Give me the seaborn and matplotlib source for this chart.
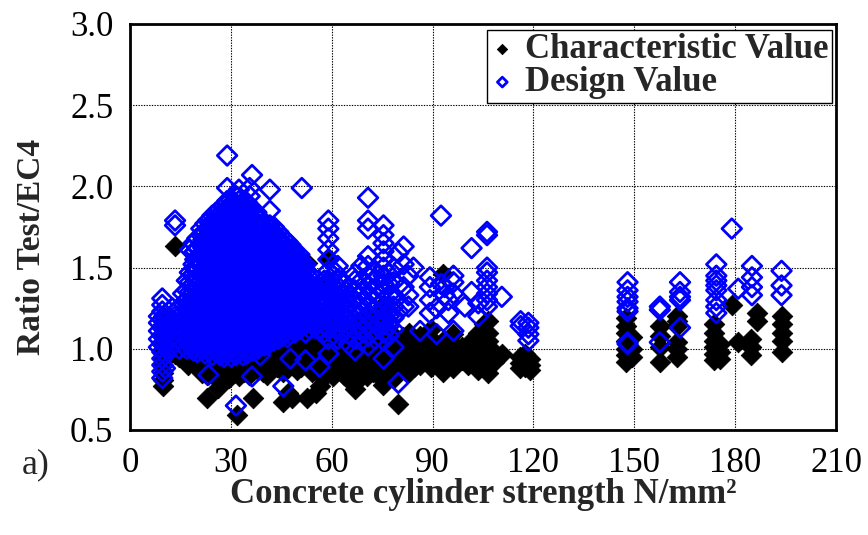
import matplotlib
matplotlib.use("Agg")
import matplotlib.pyplot as plt
import pandas as pd
import seaborn as sns

# Concrete cylinder strength (N/mm^2) for each group of tests
char_fc = [9.8, 11.0, 12.4, 13.4, 14.6, 15.9, 17.3, 18.7, 20.1, 21.4,
           23.0, 24.6, 26.2, 27.8, 29.3, 30.8, 31.7, 32.5, 34.0, 35.4,
           36.7, 38.1, 39.5, 40.7, 42.2, 43.6, 45.6, 47.0, 48.1, 49.6,
           51.0, 52.6, 54.0, 55.4, 56.5, 58.0, 59.3, 60.5, 62.0, 63.6,
           65.1, 66.9, 68.6, 70.4, 72.2, 73.8, 75.3, 76.9, 78.4, 79.8,
           81.3, 82.9, 84.5, 86.3, 88.0, 89.4, 91.0, 93.2, 94.8, 96.2,
           98.7, 100.6, 102.0, 103.6, 105.2, 106.6, 108.2, 110.6, 116.0, 117.4,
           119.0, 147.4, 149.4, 157.6, 162.8, 173.8, 175.6, 179.0, 180.9, 184.6,
           186.4, 193.8]

# Ratio test / EC4 using characteristic values
char_ratio = [
    [0.77, 0.81, 0.85, 0.90, 0.95, 1.00, 1.05, 1.10, 1.15, 1.20],
    [0.96, 1.01, 1.06, 1.12],
    [0.98, 1.04, 1.10],
    [0.97, 1.03, 1.09, 1.63],
    [0.95, 1.00, 1.06, 1.12],
    [0.94, 0.99, 1.05, 1.11, 1.17],
    [0.90, 0.96, 1.02, 1.08, 1.14, 1.20],
    [0.93, 0.98, 1.04, 1.10, 1.16, 1.22],
    [0.88, 0.94, 1.00, 1.06, 1.12, 1.18, 1.25],
    [0.85, 0.91, 0.97, 1.03, 1.09, 1.16, 1.23, 1.30],
    [0.70, 0.84, 0.90, 0.96, 1.02, 1.08, 1.15, 1.22, 1.29, 1.36],
    [0.86, 0.92, 0.98, 1.04, 1.10, 1.17, 1.24, 1.31, 1.38],
    [0.76, 0.81, 0.87, 0.93, 0.99, 1.05, 1.12, 1.19, 1.26, 1.33, 1.41],
    [0.84, 0.89, 0.95, 1.01, 1.07, 1.14, 1.21, 1.28, 1.36, 1.44, 1.79],
    [0.82, 0.88, 0.94, 1.00, 1.06, 1.13, 1.20, 1.27, 1.35, 1.43, 1.51],
    [0.85, 0.91, 0.97, 1.03, 1.09, 1.16, 1.23, 1.31, 1.39, 1.47],
    [0.59],
    [0.83, 0.89, 0.95, 1.01, 1.07, 1.14, 1.21, 1.28, 1.36, 1.44, 1.52],
    [0.86, 0.92, 0.98, 1.04, 1.10, 1.17, 1.24, 1.32, 1.40, 1.48],
    [0.84, 0.90, 0.96, 1.02, 1.08, 1.15, 1.22, 1.30, 1.38],
    [0.70, 0.88, 0.94, 1.00, 1.06, 1.13, 1.20, 1.27, 1.35, 1.43],
    [0.87, 0.93, 0.99, 1.05, 1.12, 1.19, 1.26, 1.34],
    [0.86, 0.92, 0.98, 1.04, 1.11, 1.18, 1.25, 1.33, 1.41],
    [0.84, 0.90, 0.96, 1.02, 1.09, 1.16, 1.24, 1.31],
    [0.88, 0.94, 1.00, 1.07, 1.14, 1.21, 1.28, 1.36],
    [0.89, 0.95, 1.01, 1.08, 1.15, 1.22, 1.30],
    [0.67, 0.86, 0.92, 0.98, 1.05, 1.12, 1.19, 1.27, 1.35],
    [0.73, 0.88, 0.94, 1.00, 1.07, 1.14, 1.21, 1.29],
    [0.70, 0.90, 0.96, 1.02, 1.09, 1.16, 1.24],
    [0.87, 0.93, 0.99, 1.05, 1.12, 1.19, 1.27, 1.35, 1.44],
    [0.89, 0.95, 1.01, 1.08, 1.15, 1.22, 1.30, 1.38, 1.46],
    [0.70, 0.90, 0.96, 1.02, 1.09, 1.16, 1.24, 1.32, 1.53],
    [0.86, 0.92, 0.98, 1.04, 1.11, 1.18],
    [0.73, 0.88, 0.94, 1.00, 1.06, 1.13],
    [0.77, 0.84, 0.90, 0.96, 1.02, 1.08],
    [0.83, 0.89, 0.95, 1.01, 1.07, 1.14],
    [0.86, 0.92, 0.98, 1.04, 1.10, 1.17, 1.25, 1.33, 1.42, 1.55],
    [0.83, 0.89, 0.95, 1.01, 1.07],
    [0.87, 0.93, 0.99, 1.05, 1.11],
    [0.84, 0.90, 0.96, 1.02, 1.08, 1.14],
    [0.81, 0.87, 0.93, 0.99, 1.05],
    [0.75, 0.79, 0.83, 0.88, 0.93, 0.98, 1.03, 1.09, 1.15],
    [0.85, 0.91, 0.97, 1.03, 1.09],
    [0.83, 0.89, 0.95, 1.01, 1.07, 1.13, 1.20],
    [0.86, 0.92, 0.98, 1.04, 1.11],
    [0.84, 0.90, 0.96, 1.02, 1.08],
    [0.78, 0.83, 0.88, 0.94, 1.00, 1.06, 1.12, 1.19, 1.27],
    [0.87, 0.93, 0.99, 1.05, 1.11],
    [0.82, 0.88, 0.94, 1.00, 1.06],
    [0.66, 0.85, 0.91, 0.97, 1.03],
    [0.88, 0.94, 1.00, 1.07],
    [0.86, 0.92, 0.98, 1.04, 1.10],
    [0.89, 0.95, 1.01],
    [0.90, 0.96, 1.02, 1.08],
    [0.93, 0.99, 1.05],
    [0.89, 0.94, 1.00, 1.06, 1.12],
    [0.91, 0.97, 1.03],
    [0.86, 0.93, 0.99, 1.05, 1.46],
    [0.90, 0.96, 1.02],
    [0.88, 0.97, 1.03, 1.09],
    [0.93, 0.97, 1.01],
    [0.90, 0.96],
    [0.95, 1.00, 1.06],
    [0.87, 0.93, 0.99, 1.04, 1.10],
    [0.90, 0.96, 1.02, 1.08, 1.15],
    [0.85, 0.89, 0.94, 1.00, 1.05, 1.10, 1.17],
    [0.92, 0.98],
    [0.97],
    [0.88, 0.91, 0.95],
    [0.89, 0.93, 0.97],
    [0.87, 0.90, 0.94],
    [0.92, 0.96, 1.00, 1.05, 1.10, 1.14, 1.19],
    [0.95, 1.00, 1.07],
    [0.92, 1.01, 1.08, 1.14],
    [0.95, 1.00, 1.04, 1.14, 1.17, 1.20],
    [0.93, 0.97, 1.01, 1.05, 1.10, 1.15],
    [0.94, 0.98, 1.03],
    [1.27],
    [1.04],
    [0.96, 1.01, 1.06],
    [1.17, 1.22],
    [0.98, 1.05, 1.10, 1.15, 1.20],
]

design_fc = [8.6, 9.6, 10.4, 11.5, 12.6, 13.4, 14.6, 15.8, 16.9, 17.8,
             18.9, 20.0, 21.2, 22.4, 23.3, 24.5, 25.6, 26.8, 28.0, 28.9,
             30.1, 31.5, 32.4, 33.6, 34.8, 35.6, 36.3, 37.6, 38.7, 39.9,
             41.6, 42.8, 44.1, 45.6, 46.8, 47.7, 49.0, 50.4, 51.1, 52.2,
             53.5, 55.0, 56.4, 57.8, 59.0, 60.4, 61.8, 63.4, 65.0, 66.9,
             68.8, 70.8, 72.8, 75.4, 77.0, 78.4, 79.8, 81.4, 82.8, 84.3,
             86.3, 89.2, 91.2, 92.5, 93.6, 94.7, 96.2, 99.6, 101.6, 103.6,
             106.2, 110.6, 116.2, 118.5, 148.0, 157.6, 163.6, 174.4, 179.0, 180.9,
             185.0, 193.8,
             # further specimens in the dense normal-strength range
             19.4, 21.8, 23.9, 26.2, 27.4, 29.5, 30.8, 32.9, 34.2, 36.9,
             38.1, 39.3, 40.7, 42.2, 43.5, 45.0, 46.2, 48.3, 49.7, 51.4,
             54.2, 58.4, 61.1, 64.2]

# Ratio test / EC4 using design values
design_ratio = [
    [1.01, 1.06, 1.11, 1.16, 1.20],
    [0.82, 0.86, 0.90, 0.94, 0.98, 1.03, 1.08, 1.13, 1.18, 1.23, 1.27, 1.31],
    [0.88, 0.96, 1.02, 1.07, 1.12, 1.17, 1.21],
    [1.00, 1.05, 1.10, 1.15, 1.19],
    [1.02, 1.07, 1.12, 1.17, 1.25],
    [1.04, 1.09, 1.14, 1.20, 1.76, 1.79],
    [1.00, 1.05, 1.10, 1.15, 1.20, 1.25],
    [1.02, 1.07, 1.12, 1.17, 1.22, 1.28, 1.34],
    [1.00, 1.05, 1.10, 1.15, 1.20, 1.25, 1.30, 1.36, 1.42],
    [1.03, 1.08, 1.13, 1.18, 1.24, 1.29, 1.35, 1.41, 1.47, 1.61],
    [0.99, 1.04, 1.09, 1.14, 1.19, 1.24, 1.30, 1.35, 1.40, 1.46, 1.52, 1.59, 1.65],
    [0.98, 1.03, 1.08, 1.13, 1.18, 1.23, 1.28, 1.33, 1.39, 1.44, 1.50, 1.56, 1.62, 1.68],
    [1.00, 1.05, 1.10, 1.15, 1.20, 1.26, 1.31, 1.36, 1.42, 1.47, 1.53, 1.58, 1.64, 1.70, 1.74],
    [0.97, 1.02, 1.07, 1.12, 1.17, 1.22, 1.27, 1.33, 1.38, 1.44, 1.49, 1.55, 1.60, 1.66, 1.72, 1.77],
    [0.84, 0.99, 1.04, 1.09, 1.15, 1.20, 1.25, 1.30, 1.35, 1.41, 1.46, 1.52, 1.57, 1.63, 1.68, 1.74, 1.79],
    [0.96, 1.01, 1.06, 1.11, 1.16, 1.21, 1.27, 1.32, 1.37, 1.43, 1.48, 1.53, 1.59, 1.64, 1.70, 1.76, 1.82],
    [0.98, 1.03, 1.08, 1.13, 1.18, 1.24, 1.29, 1.34, 1.40, 1.45, 1.50, 1.56, 1.61, 1.67, 1.72, 1.78, 1.84],
    [0.96, 1.00, 1.05, 1.10, 1.15, 1.20, 1.25, 1.31, 1.36, 1.41, 1.47, 1.52, 1.58, 1.63, 1.69, 1.74, 1.80, 1.86],
    [0.95, 1.02, 1.07, 1.12, 1.17, 1.22, 1.28, 1.33, 1.38, 1.44, 1.49, 1.55, 1.60, 1.66, 1.71, 1.77, 1.83, 1.88],
    [0.97, 1.04, 1.09, 1.14, 1.19, 1.25, 1.30, 1.35, 1.41, 1.46, 1.52, 1.57, 1.63, 1.68, 1.74, 1.80, 1.86, 1.91, 1.99, 2.19],
    [0.95, 1.00, 1.05, 1.10, 1.16, 1.21, 1.26, 1.32, 1.37, 1.42, 1.48, 1.53, 1.59, 1.64, 1.70, 1.75, 1.81, 1.87, 1.92],
    [0.65, 0.96, 1.02, 1.07, 1.12, 1.18, 1.23, 1.28, 1.34, 1.39, 1.45, 1.50, 1.56, 1.61, 1.67, 1.72, 1.78, 1.84, 1.89, 1.94],
    [0.98, 1.04, 1.09, 1.14, 1.20, 1.25, 1.31, 1.36, 1.41, 1.47, 1.52, 1.58, 1.63, 1.69, 1.75, 1.81, 1.86, 1.91, 1.98],
    [0.96, 1.01, 1.06, 1.11, 1.17, 1.22, 1.27, 1.33, 1.38, 1.44, 1.49, 1.55, 1.60, 1.66, 1.72, 1.77, 1.83, 1.89],
    [0.97, 1.03, 1.08, 1.13, 1.19, 1.24, 1.29, 1.35, 1.40, 1.46, 1.51, 1.57, 1.62, 1.68, 1.74, 1.79, 1.85, 1.90],
    [1.00, 1.05, 1.10, 1.16, 1.21, 1.26, 1.32, 1.37, 1.43, 1.48, 1.54, 1.59, 1.65, 1.71, 1.76, 1.82, 1.88, 1.94, 1.99],
    [0.83, 0.99, 1.04, 1.09, 1.14, 1.20, 1.25, 1.30, 1.36, 1.41, 1.47, 1.52, 1.58, 1.64, 1.69, 1.75, 1.80, 1.86, 2.07],
    [1.01, 1.06, 1.12, 1.17, 1.22, 1.28, 1.33, 1.39, 1.44, 1.50, 1.55, 1.61, 1.66, 1.72, 1.78, 1.84],
    [0.96, 1.03, 1.08, 1.13, 1.19, 1.24, 1.30, 1.35, 1.41, 1.46, 1.52, 1.57, 1.63, 1.68, 1.74, 1.80],
    [1.02, 1.07, 1.12, 1.18, 1.23, 1.29, 1.34, 1.39, 1.45, 1.50, 1.56, 1.61, 1.67, 1.72, 1.78],
    [1.04, 1.09, 1.15, 1.20, 1.26, 1.31, 1.37, 1.42, 1.48, 1.53, 1.59, 1.64, 1.70, 1.76, 1.85, 1.98],
    [1.05, 1.11, 1.16, 1.22, 1.27, 1.33, 1.38, 1.44, 1.49, 1.55, 1.60, 1.66, 1.71, 1.75],
    [1.06, 1.12, 1.17, 1.23, 1.28, 1.34, 1.39, 1.45, 1.50, 1.56, 1.61, 1.67, 1.72],
    [0.77, 1.08, 1.13, 1.19, 1.24, 1.30, 1.35, 1.41, 1.46, 1.52, 1.57, 1.63, 1.68],
    [1.07, 1.12, 1.18, 1.23, 1.29, 1.34, 1.40, 1.45, 1.51, 1.56, 1.62, 1.66],
    [0.94, 1.09, 1.14, 1.20, 1.25, 1.31, 1.36, 1.42, 1.47, 1.53, 1.58, 1.64],
    [1.10, 1.16, 1.21, 1.27, 1.32, 1.38, 1.43, 1.49, 1.54, 1.60],
    [1.12, 1.17, 1.23, 1.28, 1.34, 1.39, 1.45, 1.50, 1.55, 1.58],
    [1.99],
    [0.93, 1.10, 1.15, 1.20, 1.26, 1.31, 1.37, 1.42, 1.47, 1.52],
    [1.12, 1.18, 1.23, 1.29, 1.34, 1.40, 1.46],
    [1.13, 1.18, 1.24, 1.29, 1.34, 1.38],
    [0.89, 1.11, 1.16, 1.22, 1.27, 1.32, 1.36],
    [1.10, 1.15, 1.21, 1.26, 1.31, 1.37, 1.42],
    [0.97, 1.06, 1.12, 1.18, 1.24, 1.30, 1.36, 1.42, 1.48, 1.55, 1.61, 1.68, 1.74, 1.79],
    [1.09, 1.15, 1.20, 1.26, 1.32, 1.38, 1.45],
    [1.06, 1.12, 1.18, 1.24, 1.30, 1.36, 1.43, 1.51],
    [1.10, 1.16, 1.22, 1.28, 1.34, 1.40],
    [1.03, 1.09, 1.15, 1.21, 1.27, 1.33, 1.38],
    [0.99, 1.06, 1.12, 1.18, 1.24, 1.30, 1.36, 1.42, 1.46],
    [1.05, 1.11, 1.17, 1.23, 1.29, 1.35, 1.42, 1.51],
    [1.02, 1.08, 1.14, 1.20, 1.26, 1.32, 1.39, 1.45, 1.51, 1.57, 1.74, 1.79, 1.93],
    [1.06, 1.12, 1.18, 1.24, 1.30, 1.36, 1.42, 1.47],
    [0.94, 1.05, 1.10, 1.15, 1.20, 1.25, 1.30, 1.35, 1.40, 1.45, 1.50, 1.55, 1.60, 1.65, 1.70, 1.76],
    [1.08, 1.14, 1.20, 1.26, 1.33, 1.40, 1.46],
    [1.01, 1.12, 1.19, 1.26, 1.33, 1.41, 1.50],
    [0.79, 1.23, 1.59],
    [1.26, 1.38, 1.52, 1.63],
    [1.26, 1.33, 1.45],
    [1.50],
    [1.11],
    [1.22, 1.30, 1.38, 1.44],
    [1.09, 1.25],
    [1.40, 1.82],
    [1.33, 1.38],
    [1.22, 1.30],
    [1.11, 1.34, 1.41, 1.45],
    [1.26],
    [1.35, 1.62],
    [1.20, 1.28],
    [1.26, 1.30, 1.34, 1.38, 1.42, 1.47, 1.50, 1.70, 1.72],
    [1.32],
    [1.14, 1.17],
    [1.05, 1.09, 1.13, 1.16],
    [1.03, 1.04, 1.23, 1.25, 1.29, 1.32, 1.36, 1.41],
    [1.04, 1.24, 1.26],
    [1.13, 1.30, 1.32, 1.35, 1.41],
    [1.22, 1.26, 1.30, 1.36, 1.39, 1.42, 1.45, 1.52],
    [1.74],
    [1.37],
    [1.33, 1.38, 1.44, 1.51],
    [1.33, 1.39, 1.48],
    [1.01, 1.06, 1.11, 1.16, 1.22, 1.27, 1.32, 1.38, 1.43, 1.49, 1.55, 1.60],
    [1.00, 1.06, 1.11, 1.17, 1.22, 1.28, 1.34, 1.39, 1.45, 1.50, 1.56, 1.62, 1.67, 1.71],
    [0.99, 1.04, 1.10, 1.16, 1.21, 1.27, 1.32, 1.38, 1.44, 1.49, 1.55, 1.61, 1.66, 1.72, 1.77],
    [0.99, 1.05, 1.11, 1.16, 1.22, 1.27, 1.33, 1.39, 1.44, 1.50, 1.55, 1.61, 1.67, 1.72, 1.78, 1.82],
    [0.98, 1.03, 1.09, 1.14, 1.20, 1.26, 1.31, 1.37, 1.42, 1.48, 1.54, 1.59, 1.65, 1.70, 1.76, 1.82],
    [0.99, 1.05, 1.10, 1.16, 1.22, 1.27, 1.33, 1.38, 1.44, 1.50, 1.55, 1.61, 1.66, 1.72, 1.78, 1.83, 1.88],
    [0.98, 1.03, 1.08, 1.14, 1.19, 1.25, 1.30, 1.36, 1.41, 1.47, 1.52, 1.58, 1.63, 1.69, 1.75, 1.80, 1.86, 1.90],
    [1.00, 1.06, 1.11, 1.17, 1.22, 1.28, 1.34, 1.39, 1.45, 1.50, 1.56, 1.61, 1.67, 1.73, 1.78, 1.84, 1.89],
    [0.99, 1.04, 1.10, 1.15, 1.21, 1.26, 1.32, 1.37, 1.43, 1.48, 1.54, 1.60, 1.65, 1.71, 1.76, 1.82, 1.87],
    [1.02, 1.07, 1.13, 1.18, 1.24, 1.29, 1.35, 1.40, 1.46, 1.51, 1.57, 1.62, 1.68, 1.73, 1.79, 1.83],
    [1.00, 1.05, 1.10, 1.16, 1.21, 1.27, 1.32, 1.38, 1.43, 1.49, 1.54, 1.60, 1.65, 1.71, 1.76, 1.80],
    [1.04, 1.10, 1.15, 1.21, 1.26, 1.32, 1.37, 1.43, 1.48, 1.54, 1.59, 1.65, 1.70, 1.76],
    [1.05, 1.11, 1.17, 1.23, 1.28, 1.34, 1.40, 1.45, 1.51, 1.57, 1.62, 1.68, 1.73],
    [1.08, 1.13, 1.19, 1.25, 1.30, 1.36, 1.41, 1.47, 1.52, 1.58, 1.63, 1.69, 1.73],
    [1.09, 1.15, 1.20, 1.26, 1.31, 1.37, 1.42, 1.48, 1.53, 1.59, 1.64, 1.70],
    [1.10, 1.16, 1.21, 1.27, 1.32, 1.38, 1.43, 1.49, 1.54, 1.60, 1.65],
    [1.10, 1.15, 1.21, 1.26, 1.32, 1.37, 1.43, 1.48, 1.54, 1.59, 1.64],
    [1.12, 1.18, 1.23, 1.29, 1.34, 1.40, 1.45, 1.51, 1.56, 1.61],
    [1.13, 1.19, 1.24, 1.30, 1.36, 1.41, 1.47, 1.52, 1.57],
    [1.14, 1.20, 1.25, 1.31, 1.36, 1.42, 1.48, 1.51],
    [1.15, 1.21, 1.26, 1.32, 1.37, 1.42],
    [1.13, 1.18, 1.24, 1.29, 1.34, 1.39],
    [1.12, 1.17, 1.23, 1.28, 1.34, 1.40, 1.47],
    [1.13, 1.19, 1.25, 1.31, 1.36],
]

x_ticks = [0, 30, 60, 90, 120, 150, 180, 210]
y_ticks = [0.5, 1.0, 1.5, 2.0, 2.5, 3.0]


def long_table(strengths, groups):
    assert len(strengths) == len(groups)
    rows = [(f, r) for f, g in zip(strengths, groups) for r in g]
    return pd.DataFrame(rows, columns=["fc", "ratio"])


char_df = long_table(char_fc, char_ratio)
design_df = long_table(design_fc, design_ratio)

sns.set_style("white")
plt.rcParams["font.family"] = ["Liberation Serif", "DejaVu Serif"]

fig = plt.figure(figsize=(8.68, 5.35), dpi=100)
ax = fig.add_axes([130 / 868, 1 - 430 / 535, 706 / 868, 406 / 535])

sns.scatterplot(data=char_df, x="fc", y="ratio", ax=ax, marker="D", s=110,
                color="black", edgecolor="black", linewidth=0.6,
                label="Characteristic Value", zorder=3)
sns.scatterplot(data=design_df, x="fc", y="ratio", ax=ax, marker="D", s=100,
                facecolor="none", edgecolor="#0000ff", linewidth=2.0,
                label="Design Value", zorder=4)

ax.set_xlim(0, 210)
ax.set_ylim(0.5, 3.0)
ax.set_xticks(x_ticks)
ax.set_yticks(y_ticks)
ax.set_yticklabels([f"{v:.1f}" for v in y_ticks])
ax.set_axisbelow(True)
ax.grid(True, color="black", linestyle=(0, (1.2, 1.2)), linewidth=0.8)
ax.tick_params(axis="both", direction="out", length=8, width=1,
               labelsize=25, colors="black", pad=4)
for side in ax.spines.values():
    side.set_color("black")
    side.set_linewidth(2)

ax.set_xlabel("Concrete cylinder strength N/mm²", fontsize=25,
              fontweight="bold", labelpad=-1)
ax.set_ylabel("Ratio Test/EC4", fontsize=24, fontweight="bold")
ax.yaxis.set_label_coords(-0.118, 0.45)

leg = ax.legend(loc="upper right", bbox_to_anchor=(1.004, 1.003), markerscale=0.5,
                prop={"weight": "bold", "size": 25}, frameon=True,
                fancybox=False, edgecolor="black", framealpha=1,
                borderpad=0.1, labelspacing=0.0, handlelength=0.7,
                handletextpad=0.3, borderaxespad=0.2)
leg.get_frame().set_linewidth(1.0)

fig.text(22 / 868, 1 - 465 / 535, "a)", fontsize=26, va="center", ha="left")

fig.savefig("out.png", dpi=100)
